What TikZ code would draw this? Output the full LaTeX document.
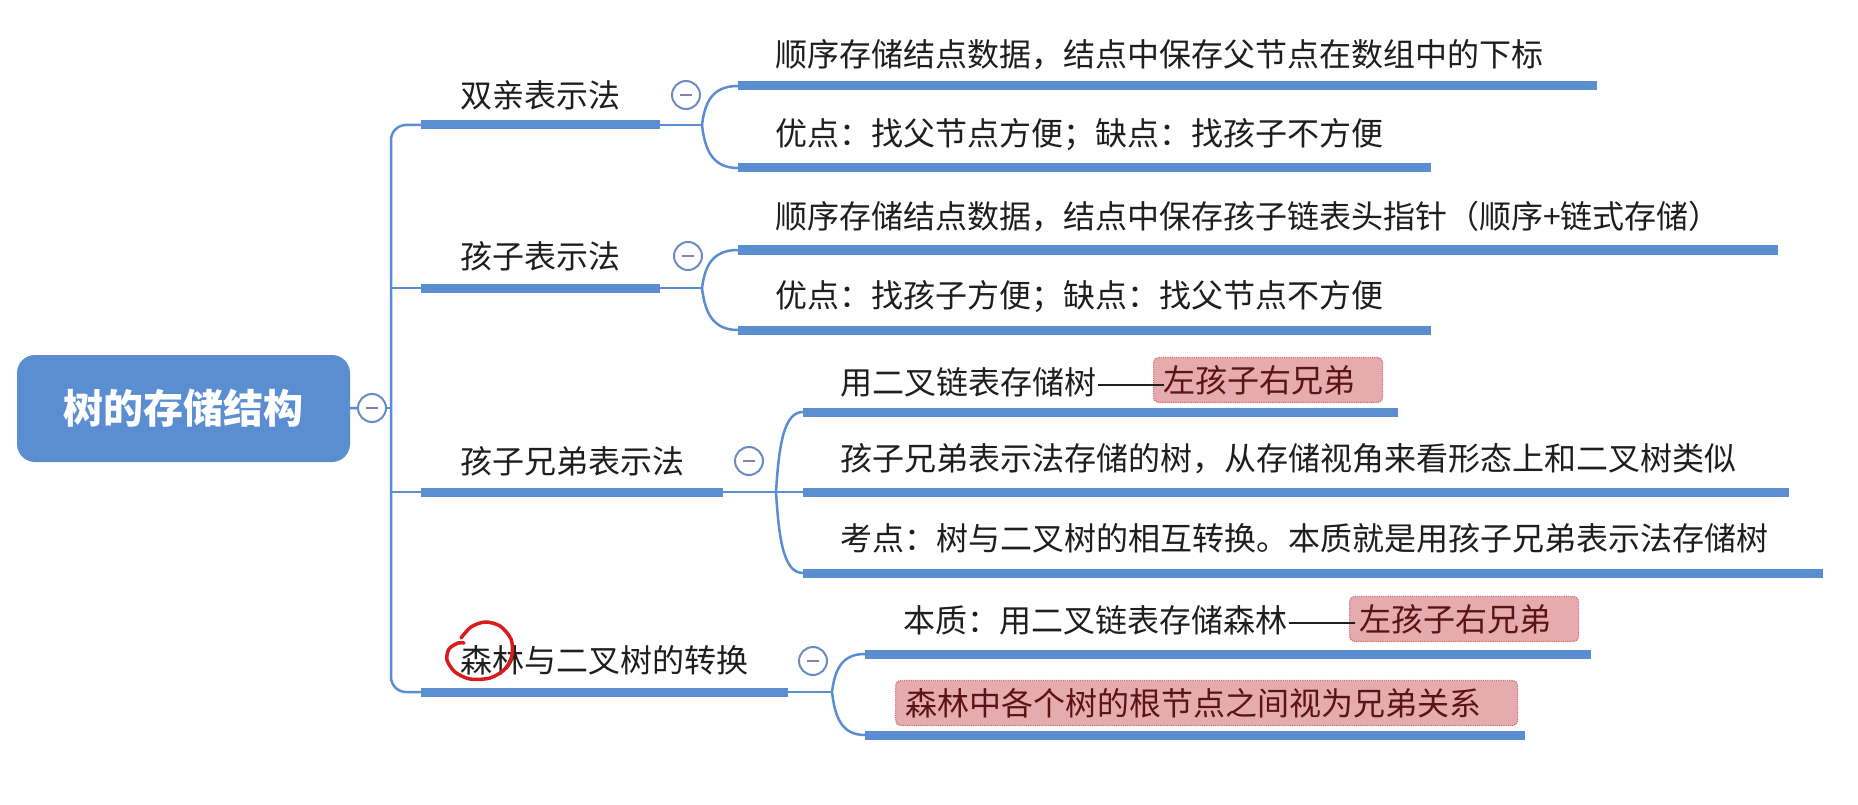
\documentclass[tikz,border=0pt]{standalone}
\usepackage{fontspec}
\setmainfont{Noto Sans CJK SC}

\definecolor{mapblue}{HTML}{5B8ED1}
\definecolor{ringblue}{HTML}{6A8CC4}
\definecolor{minusgray}{HTML}{8A80B0}
\definecolor{inkgray}{HTML}{1E1E1E}
\definecolor{notefill}{HTML}{E5ABAE}
\definecolor{noteline}{HTML}{D0706A}
\definecolor{notetext}{HTML}{5A1414}
\definecolor{penred}{HTML}{D81C1C}

\newcommand{\longdash}{\resizebox{70pt}{\height}{——}}

\tikzset{
  rootbox/.style={fill=mapblue, rounded corners=18pt, minimum width=333pt, minimum height=107pt,
    inner sep=0pt, text=white, font=\fontsize{40pt}{40pt}\selectfont\bfseries},
  topic/.style={anchor=west, inner sep=0pt, text=inkgray, font=\fontsize{32pt}{32pt}\selectfont},
  notebox/.style={fill=notefill, draw=noteline, densely dotted, line width=1.2pt, rounded corners=5pt,
    anchor=west, inner xsep=10pt, inner ysep=0pt, minimum height=45pt, text width=#1, align=left,
    text=notetext, font=\fontsize{32pt}{32pt}\selectfont},
  toggle/.style={circle, draw=ringblue, fill=white, line width=2pt, minimum size=28pt, inner sep=0pt,
    path picture={\draw[minusgray, line width=2pt]
      ([xshift=-6pt]path picture bounding box.center) -- ([xshift=6pt]path picture bounding box.center);}},
  bar/.style={mapblue, line width=9pt},
  link/.style={mapblue, line width=2.5pt},
}

\begin{document}
\begin{tikzpicture}[x=1pt,y=-1pt]

\fill[white] (0,0) rectangle (1858,805);
\useasboundingbox (0,0) rectangle (1858,805);

% root
\node[rootbox] (root) at (183.5,408.5) {树的存储结构};
\node[toggle] (t0) at (372,408) {};
\coordinate (trunk) at (391,408);

% main branches
\coordinate (a0) at (421,125); \coordinate (a1) at (660,125); \coordinate (bA) at (702,125);
\coordinate (b0) at (421,288); \coordinate (b1) at (660,288); \coordinate (bB) at (702,288);
\coordinate (c0) at (421,492); \coordinate (c1) at (723,492); \coordinate (bC) at (776,492);
\coordinate (d0) at (421,692); \coordinate (d1) at (788,692); \coordinate (bD) at (832,692);

\draw[link] (root) -- (t0);
\draw[link] (t0) -- (trunk);
\draw[link, rounded corners=15pt] (a0) -| (trunk) |- (d0);
\draw[link] (trunk |- b0) -- (b0);
\draw[link] (trunk |- c0) -- (c0);

\draw[bar] (a0) -- (a1); \draw[link] (a1) -- (bA);
\draw[bar] (b0) -- (b1); \draw[link] (b1) -- (bB);
\draw[bar] (c0) -- (c1); \draw[link] (c1) -- (bC);
\draw[bar] (d0) -- (d1); \draw[link] (d1) -- (bD);

\node[topic] (A) at (460,95) {双亲表示法};
\node[topic] (B) at (460,256) {孩子表示法};
\node[topic] (C) at (460,461) {孩子兄弟表示法};
\node[topic] (D) at (460,660) {森林与二叉树的转换};

\node[toggle] (tA) at (686,95) {};
\node[toggle] (tB) at (688,256) {};
\node[toggle] (tC) at (749,461) {};
\node[toggle] (tD) at (813,661) {};

% sub branches
\coordinate (A1s) at (738,86);  \coordinate (A1e) at (1597,86);
\coordinate (A2s) at (738,168); \coordinate (A2e) at (1431,168);
\coordinate (B1s) at (738,250); \coordinate (B1e) at (1778,250);
\coordinate (B2s) at (738,330); \coordinate (B2e) at (1431,330);
\coordinate (C1s) at (803,412); \coordinate (C1e) at (1398,412);
\coordinate (C2s) at (803,492); \coordinate (C2e) at (1789,492);
\coordinate (C3s) at (803,573); \coordinate (C3e) at (1823,573);
\coordinate (D1s) at (865,654); \coordinate (D1e) at (1591,654);
\coordinate (D2s) at (865,735); \coordinate (D2e) at (1525,735);

\draw[link] (bA) .. controls +(3,-24) and +(-25,0) .. (A1s);
\draw[link] (bA) .. controls +(3,26) and +(-25,0) .. (A2s);
\draw[link] (bB) .. controls +(3,-23) and +(-25,0) .. (B1s);
\draw[link] (bB) .. controls +(3,25) and +(-25,0) .. (B2s);
\draw[link] (bC) .. controls +(3,-48) and +(-19,0) .. (C1s);
\draw[link] (bC) -- (C2s);
\draw[link] (bC) .. controls +(3,49) and +(-19,0) .. (C3s);
\draw[link] (bD) .. controls +(3,-23) and +(-23,0) .. (D1s);
\draw[link] (bD) .. controls +(3,26) and +(-23,0) .. (D2s);

\draw[bar] (A1s) -- (A1e); \draw[bar] (A2s) -- (A2e);
\draw[bar] (B1s) -- (B1e); \draw[bar] (B2s) -- (B2e);
\draw[bar] (C1s) -- (C1e); \draw[bar] (C2s) -- (C2e); \draw[bar] (C3s) -- (C3e);
\draw[bar] (D1s) -- (D1e); \draw[bar] (D2s) -- (D2e);

% highlighted notes
\node[notebox=209pt] (C1m) at (1153,380) {左孩子右兄弟};
\node[notebox=209pt] (D1m) at (1349,619) {左孩子右兄弟};
\node[notebox=602pt] (D2m) at (895,703) {森林中各个树的根节点之间视为兄弟关系};

\node[topic] (A1) at (775,55) {顺序存储结点数据，结点中保存父节点在数组中的下标};
\node[topic] (A2) at (775,135) {优点：找父节点方便；缺点：找孩子不方便};
\node[topic] (B1) at (775,217) {顺序存储结点数据，结点中保存孩子链表头指针（顺序+链式存储）};
\node[topic] (B2) at (775,297) {优点：找孩子方便；缺点：找父节点不方便};
\node[topic] (C1) at (840,382) {用二叉链表存储树\longdash};
\node[topic] (C2) at (840,459) {孩子兄弟表示法存储的树，从存储视角来看形态上和二叉树类似};
\node[topic] (C3) at (840,538) {考点：树与二叉树的相互转换。本质就是用孩子兄弟表示法存储树};
\node[topic] (D1) at (903,620) {本质：用二叉链表存储森林\longdash};

% pen mark
\draw[penred, line width=3.5pt, line cap=round] plot[smooth] coordinates
  {(461,638) (471,627) (485,622) (500,626) (511,639) (512,655) (505,669) (490,678) (470,679) (455,672) (447,660) (449,649) (458,643) (464,643)};

\end{tikzpicture}
\end{document}
